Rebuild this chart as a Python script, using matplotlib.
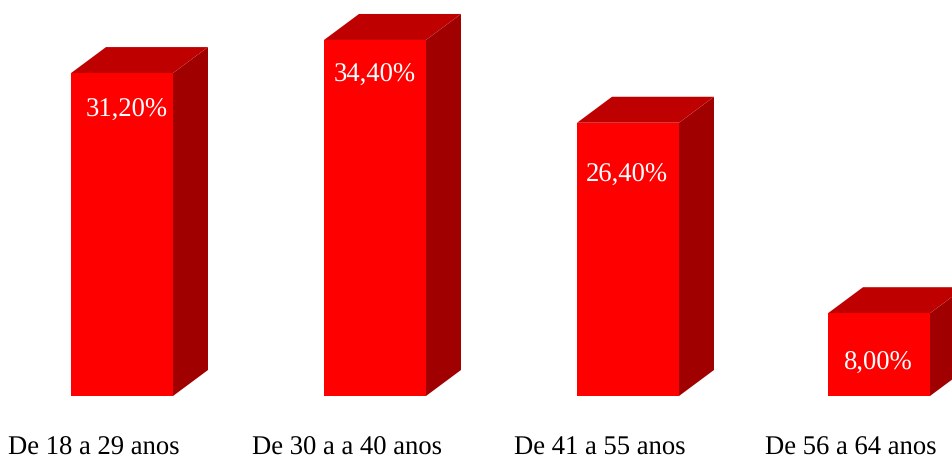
import numpy as np
import matplotlib
matplotlib.use('Agg')
import matplotlib.pyplot as plt
from matplotlib.patches import Polygon

categories = ['De 18 a 29 anos', 'De 30 a a 40 anos', 'De 41 a 55 anos', 'De 56 a 64 anos']
values = [31.2, 34.4, 26.4, 8.0]
value_labels = ['31,20%', '34,40%', '26,40%', '8,00%']

W, H = 952, 457
px_x = 253.0      # pixels between bars
px_y = 10.35      # pixels per percent
x0 = 122.0        # pixel of first bar centre
y0 = 396.0        # pixel of baseline

# the labels do not sit at the same place on each bar in the original
label_shift = [4.5, 0, -1, -1]
label_drop = [37, 35, 53, 50]

plt.rcParams['font.family'] = ['Liberation Serif']
plt.rcParams['text.hinting'] = 'no_hinting'

fig = plt.figure(figsize=(W / 100, H / 100), dpi=100)
ax = fig.add_axes([0, 0, 1, 1])
ax.set_xlim(-x0 / px_x, (W - x0) / px_x)
ax.set_ylim(-(H - y0) / px_y, y0 / px_y)
ax.axis('off')

bw = 102 / px_x
dx = 35 / px_x
dy = 26 / px_y

x = np.arange(len(values)) - np.array([0, 0, 0, 2 / px_x])
ax.bar(x, values, width=bw, color='#ff0000', linewidth=0, zorder=3)

for n, (i, v) in enumerate(zip(x, values)):
    l, r = i - bw / 2, i + bw / 2
    # top and side faces of the box
    ax.add_patch(Polygon([(l, v), (r, v), (r + dx, v + dy), (l + dx, v + dy)],
                         closed=True, fc='#bf0000', lw=0, zorder=2))
    ax.add_patch(Polygon([(r, 0), (r, v), (r + dx, v + dy), (r + dx, dy)],
                         closed=True, fc='#a00000', lw=0, zorder=2))
    ax.text(i + label_shift[n] / px_x, v - label_drop[n] / px_y, value_labels[n],
            color='white', fontsize=19.2, ha='center', va='center', zorder=4)
    ax.text(i - 28 / px_x, -59 / px_y, categories[n], color='black', fontsize=19.2,
            ha='center', va='baseline', zorder=4)

fig.savefig('out.png', dpi=100)
